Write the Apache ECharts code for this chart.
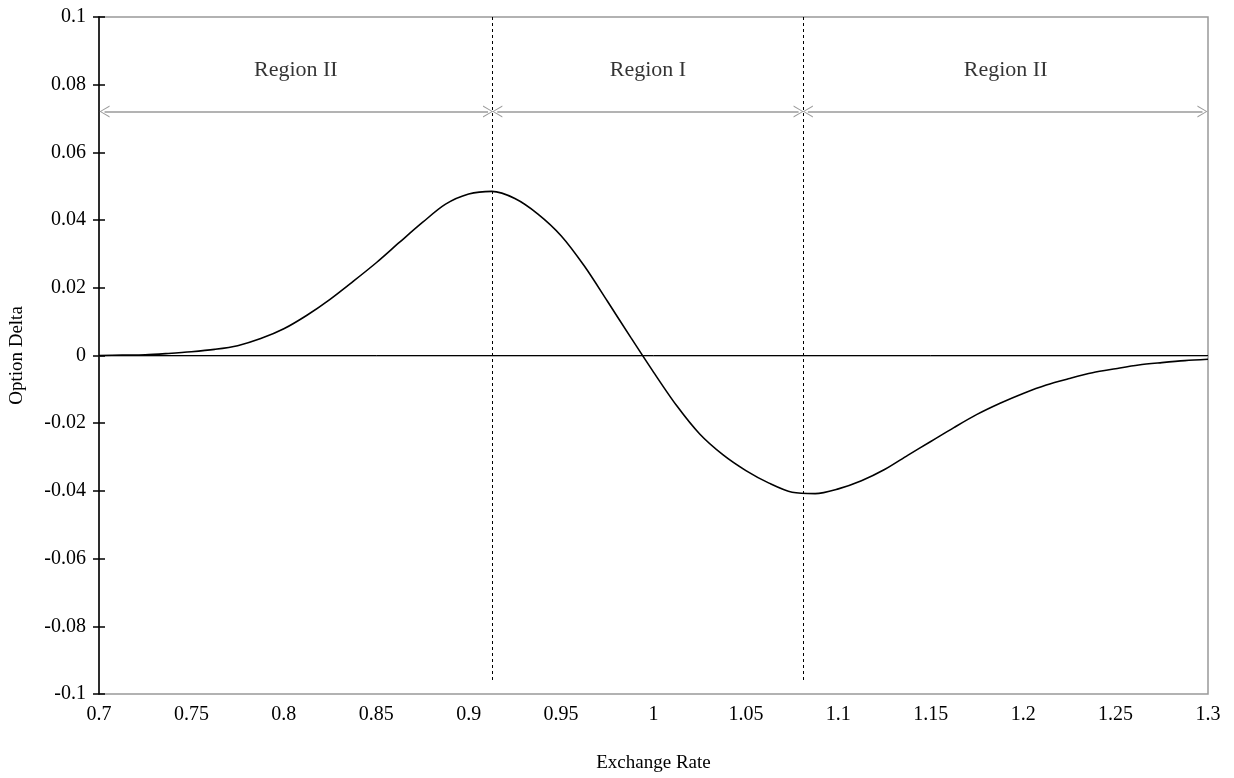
<!DOCTYPE html>
<html>
<head>
<meta charset="utf-8">
<script src="https://cdn.jsdelivr.net/npm/echarts@6/dist/echarts.min.js"></script>
<style>
  html, body { margin: 0; padding: 0; background: #fff; }
  #chart { width: 1234px; height: 778px; }
</style>
</head>
<body>
<div id="chart"></div>
<script>
// exchange rate vs option delta, every 0.0125
var rates = [0.7, 0.7125, 0.725, 0.7375, 0.75, 0.7625, 0.775, 0.7875, 0.8, 0.8125, 0.825, 0.8375,
  0.85, 0.8625, 0.875, 0.8875, 0.9, 0.9125, 0.925, 0.9375, 0.95, 0.9625, 0.975, 0.9875,
  1.0, 1.0125, 1.025, 1.0375, 1.05, 1.0625, 1.075, 1.0875, 1.1, 1.1125, 1.125, 1.1375,
  1.15, 1.1625, 1.175, 1.1875, 1.2, 1.2125, 1.225, 1.2375, 1.25, 1.2625, 1.275, 1.2875, 1.3];
var deltas = [0, 0.0001, 0.0002, 0.0006, 0.0011, 0.0018, 0.0029, 0.0050, 0.0079, 0.0119, 0.0166, 0.0219,
  0.0274, 0.0334, 0.0393, 0.0447, 0.0477, 0.0485, 0.0464, 0.0418, 0.0354, 0.0265, 0.0161, 0.0055,
  -0.0049, -0.0148, -0.0232, -0.0293, -0.0340, -0.0377, -0.0404, -0.0408, -0.0394, -0.0370, -0.0337, -0.0295,
  -0.0254, -0.0213, -0.0174, -0.0141, -0.0112, -0.0087, -0.0068, -0.0051, -0.0039, -0.0028, -0.0021, -0.0015, -0.0011];

// region boundaries (dashed lines) and labels
var boundaries = [0.913, 1.081];
var regionNames = ['Region II', 'Region I', 'Region II'];
var regionEdges = [0.7, 0.913, 1.081, 1.3];
var labelY = 0.0844;
var arrowY = 0.0721;
var dashTop = 0.1;
var dashBottom = -0.0965;

var serif = 'Liberation Serif';
var chevron = 'path://M0,10 L5,0 L10,10 L9,10 L5,1.6 L1,10 Z';

var curve = rates.map(function (x, i) { return [x, deltas[i]]; });

var labels = regionNames.map(function (name, i) {
  return [(regionEdges[i] + regionEdges[i + 1]) / 2, labelY, name];
});

var marks = [];
// zero line
marks.push({ yAxis: 0, lineStyle: { color: '#000', width: 1, type: 'solid' } });
// dashed boundaries
boundaries.forEach(function (b) {
  marks.push([
    { coord: [b, dashTop], lineStyle: { color: '#000', width: 1, type: [3, 3] } },
    { coord: [b, dashBottom] }
  ]);
});
// double arrows between edges
var gap = 0.0025;
for (var i = 0; i < regionNames.length; i++) {
  var a = regionEdges[i] + (i === 0 ? 0.003 : gap);
  var b = regionEdges[i + 1] - (i === regionNames.length - 1 ? 0.003 : gap);
  marks.push([
    { coord: [a, arrowY], symbol: chevron, symbolSize: [12, 10],
      lineStyle: { color: '#9a9a9a', width: 1.5, type: 'solid' } },
    { coord: [b, arrowY], symbol: chevron, symbolSize: [12, 10] }
  ]);
}

var chart = echarts.init(document.getElementById('chart'));
chart.setOption({
  animation: false,
  textStyle: { fontFamily: serif },
  grid: {
    left: 98, right: 26, top: 17, bottom: 81,
    show: true, borderColor: '#999', borderWidth: 1.5
  },
  xAxis: {
    type: 'value', min: 0.7, max: 1.3, interval: 0.05,
    name: 'Exchange Rate', nameLocation: 'middle', nameGap: 60,
    nameTextStyle: { fontFamily: serif, fontSize: 19, color: '#000' },
    axisLine: { show: true, lineStyle: { color: '#999', width: 1.5 } },
    axisTick: { show: false },
    splitLine: { show: false },
    axisLabel: { fontFamily: serif, fontSize: 20, color: '#000', margin: 11 }
  },
  yAxis: [{
    type: 'value', min: -0.1, max: 0.1, interval: 0.02,
    name: 'Option Delta', nameLocation: 'middle', nameGap: 72,
    nameTextStyle: { fontFamily: serif, fontSize: 19, color: '#000' },
    axisLine: { show: true, lineStyle: { color: '#000', width: 1.5 } },
    axisTick: { show: true, length: 6, lineStyle: { color: '#000', width: 1.5 } },
    splitLine: { show: false },
    axisLabel: { fontFamily: serif, fontSize: 20, color: '#000', margin: 13 }
  }, {
    type: 'value', min: -0.1, max: 0.1, interval: 0.02, position: 'left',
    axisLine: { show: false },
    axisTick: { show: true, inside: true, length: 6, lineStyle: { color: '#000', width: 1.5 } },
    axisLabel: { show: false },
    splitLine: { show: false }
  }],
  series: [{
    type: 'line',
    data: curve,
    smooth: 0.3,
    showSymbol: false,
    lineStyle: { color: '#000', width: 1.6 },
    markLine: {
      silent: true, animation: false, symbol: 'none',
      label: { show: false }, data: marks
    },
    z: 3
  }, {
    type: 'scatter',
    data: labels,
    symbolSize: 0,
    silent: true,
    label: {
      show: true, position: 'inside', color: '#000',
      textBorderWidth: 0, fontFamily: serif, fontSize: 22,
      formatter: function (p) { return p.value[2]; }
    }
  }]
});
</script>
</body>
</html>
